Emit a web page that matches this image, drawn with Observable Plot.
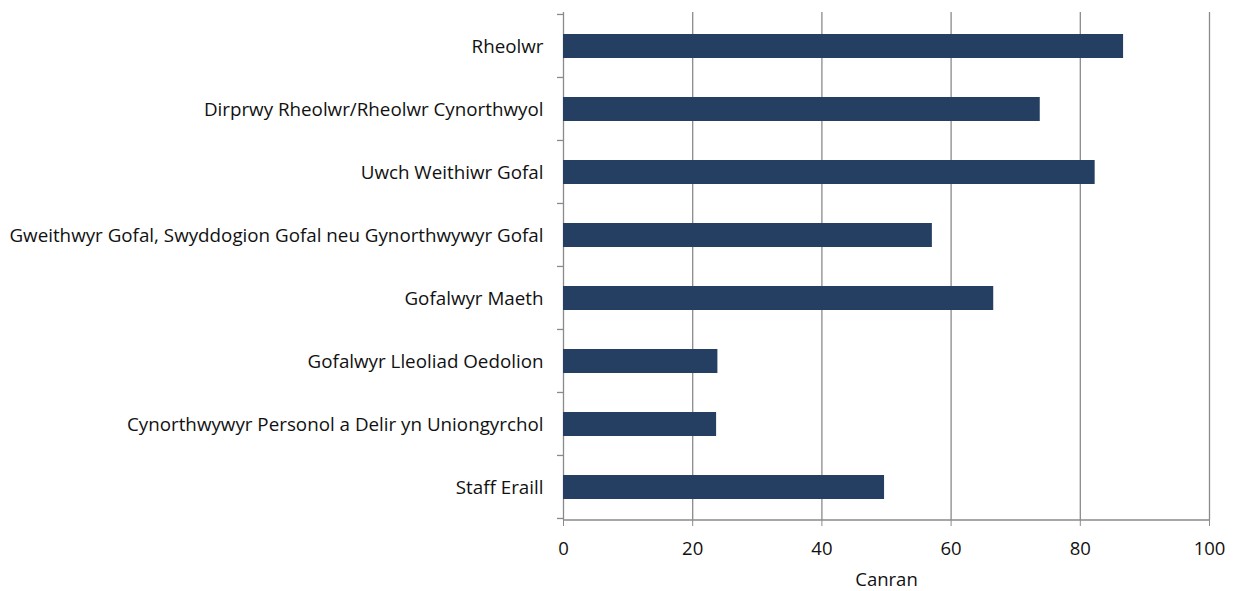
<!DOCTYPE html>
<html>
<head>
<meta charset="utf-8">
<script src="https://cdn.jsdelivr.net/npm/d3@7"></script>
<script src="https://cdn.jsdelivr.net/npm/@observablehq/plot@0.6"></script>
<style>
  html, body { margin: 0; padding: 0; background: #fff; }
  #chart svg { display: block; }
</style>
</head>
<body>
<div id="chart"></div>
<script>
const categories = [
  "Rheolwr",
  "Dirprwy Rheolwr/Rheolwr Cynorthwyol",
  "Uwch Weithiwr Gofal",
  "Gweithwyr Gofal, Swyddogion Gofal neu Gynorthwywyr Gofal",
  "Gofalwyr Maeth",
  "Gofalwyr Lleoliad Oedolion",
  "Cynorthwywyr Personol a Delir yn Uniongyrchol",
  "Staff Eraill"
];
const values = [86.7, 73.8, 82.3, 57.1, 66.6, 23.9, 23.7, 49.7];
const xTicks = [0, 20, 40, 60, 80, 100];
const xLabel = "Canran";

const data = categories.map((c, i) => ({category: c, value: values[i]}));

const W = 1239, H = 591;
const mTop = 12, mBottom = 71, mLeft = 563, mRight = 30;
const padInner = 0.62;
const gridColor = "#8a8a8a";
const barColor = "#243f62";

// custom mark: bottom axis line and category boundary ticks (Excel style)
function frameAndCategoryTicks(index, scales, values, dims) {
  const g = d3.create("svg:g");
  const y = scales.y;
  const ys = categories.map(c => y(c));
  const step = ys[1] - ys[0];
  const bw = step * (1 - padInner);
  const outer = (step - bw) / 2;
  const bounds = ys.map(v => v - outer);
  bounds.push(ys[ys.length - 1] + bw + outer);
  const x0 = scales.x(0);
  for (const b of bounds) {
    g.append("line")
      .attr("x1", x0 - 6).attr("x2", x0)
      .attr("y1", b).attr("y2", b)
      .attr("stroke", gridColor).attr("stroke-width", 1.3);
  }
  const yb = dims.height - dims.marginBottom;
  g.append("line")
    .attr("x1", dims.marginLeft).attr("x2", dims.width - dims.marginRight)
    .attr("y1", yb).attr("y2", yb)
    .attr("stroke", gridColor).attr("stroke-width", 1.3);
  return g.node();
}

const chart = Plot.plot({
  width: W,
  height: H,
  marginTop: mTop,
  marginBottom: mBottom,
  marginLeft: mLeft,
  marginRight: mRight,
  style: {fontFamily: "'Open Sans', sans-serif", fontSize: "18px", color: "#111", background: "#fff"},
  x: {domain: [0, 100], ticks: xTicks},
  y: {domain: categories, paddingInner: padInner, paddingOuter: padInner / 2},
  marks: [
    Plot.ruleX(xTicks, {stroke: gridColor, strokeWidth: 1.3, strokeOpacity: 1}),
    Plot.barX(data, {y: "category", x: "value", fill: barColor}),
    frameAndCategoryTicks,
    Plot.axisX({ticks: xTicks, tickSize: 6, tickPadding: 15, stroke: gridColor, fontSize: 18.5,
                label: xLabel, labelArrow: "none", labelAnchor: "center", labelOffset: 65}),
    Plot.axisY({tickSize: 0, tickPadding: 20, fontSize: 18.8, label: null})
  ]
});
document.getElementById("chart").appendChild(chart);
</script>
</body>
</html>
